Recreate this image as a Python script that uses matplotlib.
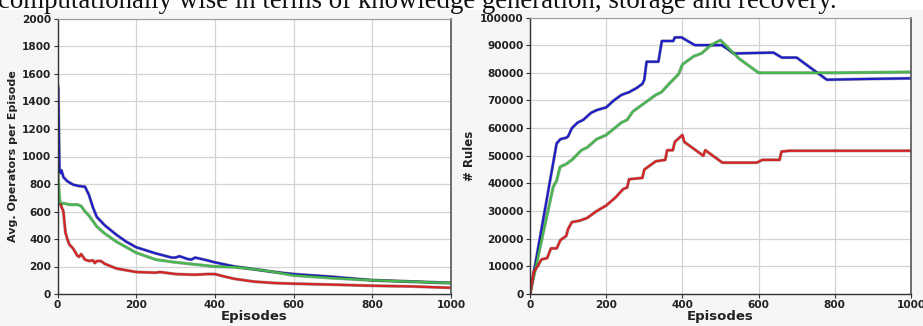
import matplotlib
matplotlib.use("Agg")
import matplotlib.pyplot as plt
import matplotlib.patheffects as pe
from matplotlib.patches import Rectangle

# ---------------- data ----------------
episodes_max = 1000

# Left chart: Avg. Operators per Episode
ops_blue_x = [0, 2, 5, 8, 10, 15, 25, 40, 55, 70, 80, 90, 100, 120, 150, 175, 200, 250, 290, 300, 310, 330, 340,
              350, 380, 400, 450, 500, 550, 600, 700, 800, 900, 1000]
ops_blue_y = [1530, 1500, 900, 880, 900, 850, 820, 795, 785, 780, 720, 630, 560, 500, 430, 380, 340, 295, 265, 265,
              275, 255, 250, 265, 245, 230, 200, 180, 160, 145, 125, 100, 90, 80]

ops_green_x = [0, 3, 5, 8, 15, 30, 50, 60, 70, 80, 100, 120, 150, 200, 250, 300, 350, 400, 450, 500, 550, 600,
               700, 800, 900, 1000]
ops_green_y = [950, 800, 700, 650, 660, 650, 650, 640, 600, 570, 490, 440, 380, 300, 250, 230, 215, 200, 195, 180,
               160, 135, 115, 100, 90, 80]

ops_red_x = [8, 12, 15, 20, 25, 30, 40, 50, 55, 60, 70, 80, 90, 95, 100, 110, 120, 150, 200, 250, 260, 300, 350,
             380, 400, 420, 450, 500, 550, 600, 700, 800, 900, 1000]
ops_red_y = [650, 620, 600, 450, 400, 360, 330, 280, 270, 290, 250, 240, 245, 225, 240, 240, 220, 185, 160, 155,
             160, 145, 140, 145, 145, 130, 110, 90, 80, 75, 68, 60, 55, 45]

# Right chart: # Rules
rules_blue_x = [0, 70, 80, 95, 100, 110, 125, 140, 160, 175, 200, 220, 240, 260, 280, 295, 300, 306, 337, 346,
                376, 380, 398, 420, 433, 503, 520, 534, 639, 661, 700, 779, 900, 1000]
rules_blue_y = [0, 54500, 56000, 56500, 57000, 60000, 62000, 63000, 65500, 66500, 67500, 70000, 72000, 73000,
                74500, 76000, 77500, 84000, 84000, 91500, 91500, 92800, 92800, 91000, 90000, 90000, 88500, 87000,
                87300, 85500, 85500, 77500, 77800, 78000]

rules_green_x = [0, 44, 61, 70, 79, 95, 110, 135, 150, 175, 200, 240, 255, 270, 290, 300, 330, 345, 365, 390, 400,
                 430, 450, 475, 495, 500, 520, 550, 600, 800, 1000]
rules_green_y = [0, 28000, 38800, 41000, 46000, 47000, 48500, 52000, 53000, 56000, 57500, 62000, 63000, 66000,
                 68000, 69000, 72000, 73000, 76000, 79500, 83000, 86000, 87000, 90000, 91500, 91800, 89000, 85000,
                 80000, 80000, 80300]

rules_red_x = [0, 10, 20, 30, 45, 55, 70, 80, 95, 100, 110, 130, 150, 175, 200, 225, 245, 255, 260, 295, 300, 330,
               355, 360, 375, 380, 400, 405, 455, 460, 505, 595, 610, 655, 660, 680, 1000]
rules_red_y = [0, 8000, 10000, 12500, 13000, 16500, 16500, 19500, 21000, 23500, 26000, 26500, 27500, 30000, 32000,
               35000, 38000, 38500, 41500, 42000, 45000, 48000, 48500, 52000, 52000, 55000, 57500, 55000, 50000,
               52000, 47500, 47500, 48500, 48500, 51500, 51800, 51800]

left_yticks = [0, 200, 400, 600, 800, 1000, 1200, 1400, 1600, 1800, 2000]
right_yticks = [0, 10000, 20000, 30000, 40000, 50000, 60000, 70000, 80000, 90000, 100000]
xticks = [0, 200, 400, 600, 800, 1000]

caption = "computationally wise in terms of knowledge generation, storage and recovery."

# ---------------- styling ----------------
W, H = 923, 326
fig = plt.figure(figsize=(W / 100, H / 100), dpi=100)
fig.patch.set_facecolor("white")
fig.patches.append(Rectangle((0, 0), 1, 1 - 10 / H, transform=fig.transFigure,
                             facecolor="#f6f6f6", edgecolor="none", zorder=-10))

fig.text(-0.002, 1 - 7.5 / H, caption, family="Liberation Serif", fontsize=19.4,
         va="baseline", ha="left", color="#111111")

BLUE = "#1e1ec8"
GREEN = "#45b94d"
RED = "#d62424"


def styled(ax):
    ax.set_facecolor("white")
    ax.set_xlim(0, episodes_max)
    ax.set_xticks(xticks)
    ax.grid(True, color="#d4d4d4", linewidth=0.9)
    ax.set_axisbelow(True)
    for s in ["left", "bottom"]:
        ax.spines[s].set_color("#333333")
        ax.spines[s].set_linewidth(1.0)
    ax.spines["top"].set_color("#9a9a9a")
    ax.spines["right"].set_color("#555555")
    ax.spines["right"].set_linewidth(1.2)
    ax.tick_params(axis="both", length=3, width=0.8, color="#333333", pad=1.5,
                   labelsize=7.6, labelcolor="#222222")
    for lab in ax.get_xticklabels() + ax.get_yticklabels():
        lab.set_fontweight("bold")
    ax.set_xlabel("Episodes", fontsize=9.5, fontweight="bold", labelpad=0, color="#222222")


def draw(ax, x, y, color):
    ax.plot(x, y, color=color, linewidth=1.6, solid_joinstyle="round",
            path_effects=[pe.Stroke(linewidth=2.3, foreground="#222222", alpha=0.4), pe.Normal()])


ax1 = fig.add_axes([57.5 / W, 1 - 294 / H, (451 - 57.5) / W, (294 - 19) / H])
ax1.set_ylim(0, 2000)
ax1.set_yticks(left_yticks)
styled(ax1)
ax1.set_ylabel("Avg. Operators per Episode", fontsize=8, fontweight="bold", labelpad=3, color="#222222")
draw(ax1, ops_blue_x, ops_blue_y, BLUE)
draw(ax1, ops_green_x, ops_green_y, GREEN)
draw(ax1, ops_red_x, ops_red_y, RED)

ax2 = fig.add_axes([530 / W, 1 - 294 / H, (911 - 530) / W, (294 - 17.5) / H])
ax2.set_ylim(0, 100000)
ax2.set_yticks(right_yticks)
styled(ax2)
ax2.set_ylabel("# Rules", fontsize=8.5, fontweight="bold", labelpad=3, color="#222222")
draw(ax2, rules_blue_x, rules_blue_y, BLUE)
draw(ax2, rules_green_x, rules_green_y, GREEN)
draw(ax2, rules_red_x, rules_red_y, RED)

fig.savefig("out.png", dpi=100, facecolor=fig.get_facecolor())
